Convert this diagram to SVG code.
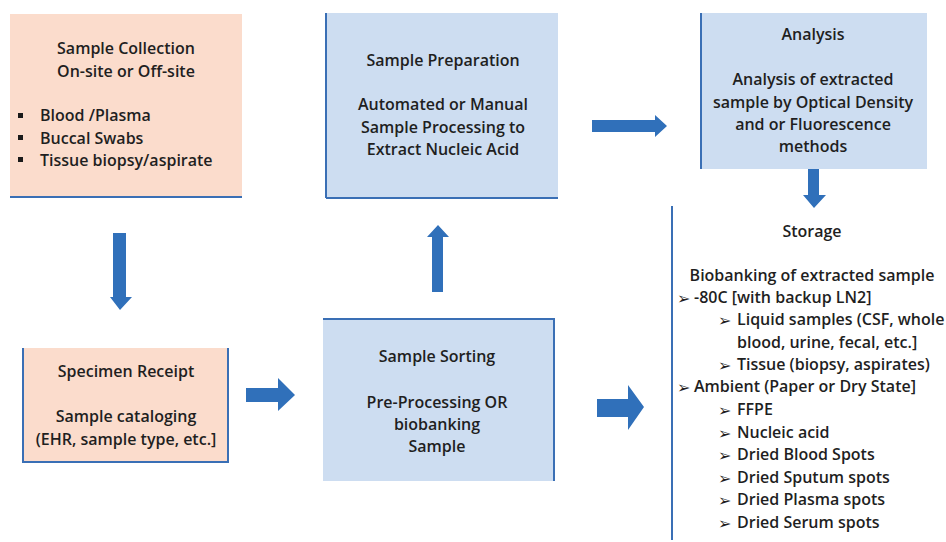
<svg xmlns="http://www.w3.org/2000/svg" width="946" height="542" viewBox="0 0 946 542">
<style>
  text { font-family: "Open Sans", "Liberation Sans", sans-serif; font-size: 16px; font-weight: 600; fill: #1f1f1f; }
  .c { text-anchor: middle; }
  .m { font-family: "DejaVu Sans", sans-serif; font-size: 16px; font-weight: 400; }
  .peach { fill: #FBDCCC; }
  .blue { fill: #CDDDF1; }
  .edge { stroke: #3A6FB5; stroke-width: 2; fill: none; }
  .arr { fill: #3070BA; }
  .bul { fill: #1a1a1a; }
</style>
<rect width="946" height="542" fill="#ffffff"/>

<g id="sample-collection">
  <rect class="peach" x="10" y="14" width="232" height="183"/>
  <line class="edge" x1="10" y1="197" x2="242" y2="197"/>
  <text class="c" x="126" y="54">Sample Collection</text>
  <text class="c" x="126" y="77">On-site or Off-site</text>
  <rect class="bul" x="18" y="113" width="5" height="5"/>
  <rect class="bul" x="18" y="135" width="5" height="5"/>
  <rect class="bul" x="18" y="157" width="5" height="5"/>
  <text x="40" y="121">Blood /Plasma</text>
  <text x="40" y="144">Buccal Swabs</text>
  <text x="40" y="166">Tissue biopsy/aspirate</text>
</g>

<g id="sample-preparation">
  <rect class="blue" x="326" y="13" width="232" height="185"/>
  <line class="edge" x1="326" y1="13" x2="326" y2="198"/>
  <line class="edge" x1="326" y1="198" x2="558" y2="198"/>
  <text class="c" x="443" y="66">Sample Preparation</text>
  <text class="c" x="443" y="110">Automated or Manual</text>
  <text class="c" x="443" y="133">Sample Processing to</text>
  <text class="c" x="443" y="155">Extract Nucleic Acid</text>
</g>

<g id="analysis">
  <rect class="blue" x="701" y="13" width="226" height="156"/>
  <line class="edge" x1="701" y1="13" x2="701" y2="169"/>
  <text class="c" x="813" y="40">Analysis</text>
  <text class="c" x="813" y="85">Analysis of extracted</text>
  <text class="c" x="813" y="108">sample by Optical Density</text>
  <text class="c" x="813" y="130">and or Fluorescence</text>
  <text class="c" x="813" y="152">methods</text>
</g>

<g id="specimen-receipt">
  <rect class="peach" x="23" y="348" width="205" height="114"/>
  <polyline class="edge" points="23,348 23,462 228,462 228,348"/>
  <text class="c" x="126" y="377">Specimen Receipt</text>
  <text class="c" x="126" y="422">Sample cataloging</text>
  <text class="c" x="126" y="445">(EHR, sample type, etc.]</text>
</g>

<g id="sample-sorting">
  <rect class="blue" x="323" y="319" width="231" height="162"/>
  <polyline class="edge" points="323,319 554,319 554,481"/>
  <text class="c" x="437" y="362">Sample Sorting</text>
  <text class="c" x="437" y="408">Pre-Processing OR</text>
  <text class="c" x="437" y="430">biobanking</text>
  <text class="c" x="437" y="452">Sample</text>
</g>

<g id="storage">
  <line class="edge" x1="672" y1="206" x2="672" y2="540"/>
  <text class="c" x="812" y="237">Storage</text>
  <text class="c" x="812" y="281">Biobanking of extracted sample</text>
  <text class="m" x="677" y="304">➢</text><text x="694" y="303">-80C [with backup LN2]</text>
  <text class="m" x="718" y="326">➢</text><text x="737" y="325">Liquid samples (CSF, whole</text>
  <text x="737" y="348">blood, urine, fecal, etc.]</text>
  <text class="m" x="718" y="371">➢</text><text x="737" y="370">Tissue (biopsy, aspirates)</text>
  <text class="m" x="677" y="393">➢</text><text x="694" y="392">Ambient (Paper or Dry State]</text>
  <text class="m" x="718" y="416">➢</text><text x="737" y="415">FFPE</text>
  <text class="m" x="718" y="439">➢</text><text x="737" y="438">Nucleic acid</text>
  <text class="m" x="718" y="461">➢</text><text x="737" y="460">Dried Blood Spots</text>
  <text class="m" x="718" y="484">➢</text><text x="737" y="483">Dried Sputum spots</text>
  <text class="m" x="718" y="506">➢</text><text x="737" y="505">Dried Plasma spots</text>
  <text class="m" x="718" y="529">➢</text><text x="737" y="528">Dried Serum spots</text>
</g>

<g id="connectors">
  <polygon class="arr" points="113,233 126,233 126,297 132,297 120,310 110,297 113,297"/>
  <polygon class="arr" points="432,292 443,292 443,237 449,237 438,225 427,237 432,237"/>
  <polygon class="arr" points="592,120 655,120 655,115 667,126 655,137 655,132 592,132"/>
  <polygon class="arr" points="246,388 278,388 278,378 295,395 278,411 278,402 246,402"/>
  <polygon class="arr" points="597,399 628,399 628,385 644,407 628,430 628,417 597,417"/>
  <polygon class="arr" points="808,169 819,169 819,195 826,195 814,208 803,195 808,195"/>
</g>
</svg>
